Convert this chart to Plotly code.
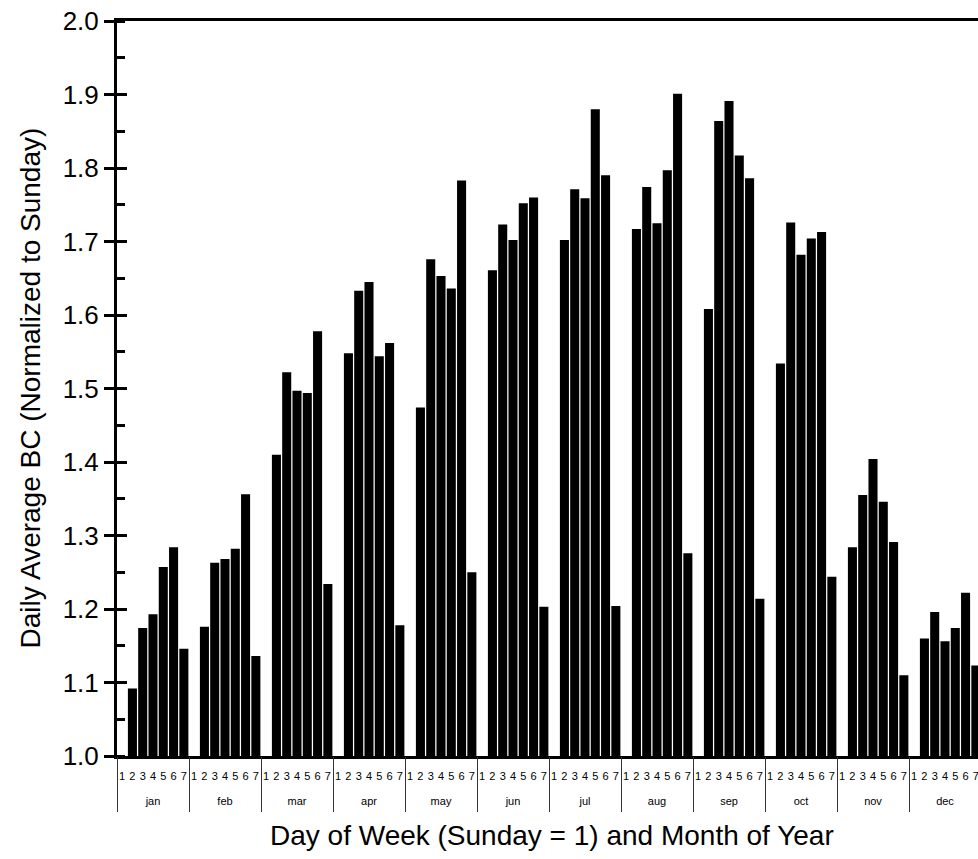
import plotly.graph_objects as go

months = ["jan", "feb", "mar", "apr", "may", "jun", "jul", "aug", "sep", "oct", "nov", "dec"]
days = ["1", "2", "3", "4", "5", "6", "7"]

jan = [1.0, 1.092, 1.174, 1.193, 1.257, 1.284, 1.146]
feb = [1.0, 1.176, 1.263, 1.268, 1.282, 1.356, 1.136]
mar = [1.0, 1.410, 1.522, 1.497, 1.494, 1.578, 1.234]
apr = [1.0, 1.548, 1.633, 1.645, 1.544, 1.562, 1.178]
may = [1.0, 1.474, 1.676, 1.653, 1.636, 1.783, 1.250]
jun = [1.0, 1.661, 1.723, 1.702, 1.752, 1.760, 1.203]
jul = [1.0, 1.702, 1.771, 1.759, 1.880, 1.790, 1.204]
aug = [1.0, 1.717, 1.774, 1.725, 1.797, 1.901, 1.276]
sep = [1.0, 1.608, 1.864, 1.891, 1.817, 1.786, 1.214]
oct_ = [1.0, 1.534, 1.726, 1.682, 1.704, 1.713, 1.244]
nov = [1.0, 1.284, 1.355, 1.404, 1.346, 1.291, 1.110]
dec = [1.0, 1.160, 1.196, 1.156, 1.174, 1.222, 1.123]

series = [jan, feb, mar, apr, may, jun, jul, aug, sep, oct_, nov, dec]

nd = len(days)
x_pos, x_day, y_vals = [], [], []
for mi, vals in enumerate(series):
    for di, v in enumerate(vals):
        x_pos.append(mi * nd + di)
        x_day.append(days[di])
        y_vals.append(v)

month_centers = [mi * nd + (nd - 1) / 2 for mi in range(len(months))]
month_bounds = [mi * nd - 0.5 for mi in range(len(months) + 1)]

FONT = "Arial, Liberation Sans, sans-serif"

W, H = 978, 859
L, T, B = 117, 21, 103
pitch = 72 / 7.0
xr = [-0.5, -0.5 + (W - L) / pitch]

fig = go.Figure()
fig.add_trace(go.Bar(
    x=x_pos, y=y_vals,
    marker=dict(color="black", line=dict(width=0)),
    showlegend=False, hoverinfo="y",
))
# helper traces so the overlay axes are drawn
fig.add_trace(go.Scatter(x=[0], y=[None], xaxis="x2", mode="markers",
                         showlegend=False, hoverinfo="skip"))
fig.add_trace(go.Scatter(x=[0], y=[None], xaxis="x3", mode="markers",
                         showlegend=False, hoverinfo="skip"))
fig.add_trace(go.Scatter(x=[0], y=[None], yaxis="y2", mode="markers",
                         showlegend=False, hoverinfo="skip"))

fig.update_layout(
    width=W, height=H,
    margin=dict(l=L, r=0, t=T, b=B),
    paper_bgcolor="white", plot_bgcolor="white",
    bargap=0.12,
    font=dict(family=FONT, color="black"),
    xaxis=dict(
        range=xr, tickmode="array", tickvals=x_pos, ticktext=x_day,
        showline=True, linecolor="black", linewidth=3, mirror=True,
        ticks="outside", ticklen=8, tickcolor="rgba(0,0,0,0)",
        tickfont=dict(size=11, family=FONT, color="black"),
        ticklabeloverflow="allow",
        showgrid=False, zeroline=False,
    ),
    xaxis2=dict(
        overlaying="x", side="bottom", anchor="y", range=xr,
        tickmode="array", tickvals=month_centers, ticktext=months,
        ticks="outside", ticklen=35, tickcolor="rgba(0,0,0,0)",
        tickfont=dict(size=11, family=FONT, color="black"),
        showline=False, showgrid=False, zeroline=False,
    ),
    xaxis3=dict(
        overlaying="x", side="bottom", anchor="y", range=xr,
        tickmode="array", tickvals=month_bounds, ticktext=[""] * len(month_bounds),
        ticks="outside", ticklen=55, tickwidth=1, tickcolor="#333",
        showline=False, showgrid=False, zeroline=False,
    ),
    yaxis=dict(
        range=[1.0, 2.0], dtick=0.1, tick0=1.0, tickformat=".1f",
        showline=True, linecolor="black", linewidth=3,
        ticks="outside", ticklen=10, tickwidth=3, tickcolor="black",
        tickfont=dict(size=26, family=FONT, color="black"),
        showgrid=False, zeroline=False,
        minor=dict(ticks="inside", dtick=0.05, tick0=1.0, ticklen=8,
                   tickwidth=3, tickcolor="black", showgrid=False),
    ),
    yaxis2=dict(
        overlaying="y", side="left", range=[1.0, 2.0], dtick=0.1, tick0=1.0,
        ticks="inside", ticklen=10, tickwidth=3, tickcolor="black",
        showticklabels=False, showgrid=False, zeroline=False, showline=False,
    ),
)

fig.add_annotation(
    text="Daily Average BC (Normalized to Sunday)",
    xref="paper", yref="paper", x=(30 - L) / (W - L), y=0.5,
    textangle=-90, showarrow=False, font=dict(size=28, family=FONT, color="black"),
    xanchor="center", yanchor="middle",
)
fig.add_annotation(
    text="Day of Week (Sunday = 1) and Month of Year",
    xref="paper", yref="paper", x=(552 - L) / (W - L), y=(756 - 836) / (756 - T),
    showarrow=False, font=dict(size=28, family=FONT, color="black"),
    xanchor="center", yanchor="middle",
)

fig.write_html("out.html")
